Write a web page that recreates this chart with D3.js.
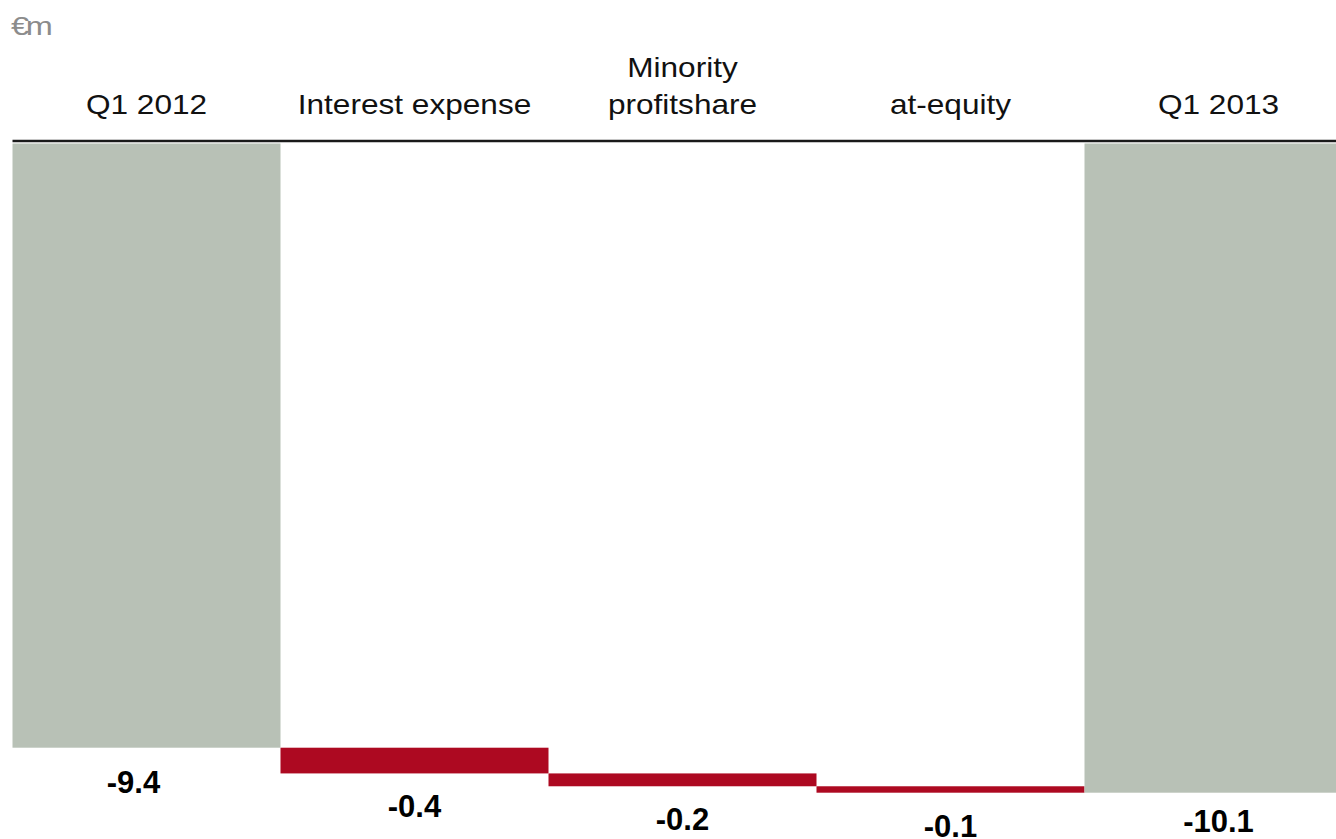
<!DOCTYPE html>
<html>
<head>
<meta charset="utf-8">
<script src="https://cdn.jsdelivr.net/npm/d3@7"></script>
<style>
  html, body { margin: 0; padding: 0; background: #fff; overflow: hidden; }
  svg { display: block; }
  text { font-family: "Liberation Sans", Arial, sans-serif; }
</style>
</head>
<body>
<svg id="chart" width="1336" height="839"></svg>
<script>
// Net financial result bridge, €m
const categories = ["Q1 2012", "Interest expense", "Minority\nprofitshare", "at-equity", "Q1 2013"];
const kinds      = ["total", "delta", "delta", "delta", "total"];
const values     = [-9.4, -0.4, -0.2, -0.1, -10.1];
const valueLabels = ["-9.4", "-0.4", "-0.2", "-0.1", "-10.1"];
const unitLabel = "€m";

const svg = d3.select("#chart");

// Waterfall segments: totals start at zero, deltas start at the running sum
let running = 0;
const bars = categories.map((c, i) => {
  let y0, y1;
  if (kinds[i] === "total") { y0 = 0; y1 = values[i]; running = values[i]; }
  else { y0 = running; y1 = running + values[i]; running = y1; }
  return { cat: c, kind: kinds[i], y0, y1, label: valueLabels[i], idx: i };
});

const x = d3.scaleBand().domain(categories).range([12.5, 1352.5]).padding(0);
const y = d3.scaleLinear().domain([0, -10.1]).range([143.5, 792.7]);

// Bars
svg.append("g").selectAll("rect").data(bars).join("rect")
  .attr("x", d => x(d.cat))
  .attr("width", x.bandwidth())
  .attr("y", d => y(Math.max(d.y0, d.y1)))
  .attr("height", d => Math.abs(y(d.y1) - y(d.y0)))
  .attr("fill", d => d.kind === "total" ? "#b8c1b6" : "#ad0921");

// Zero line drawn just above the bars
svg.append("line")
  .attr("x1", x.range()[0]).attr("x2", x.range()[1])
  .attr("y1", y(0) - 2.5).attr("y2", y(0) - 2.5)
  .attr("stroke", "#1a1a1a").attr("stroke-width", 2.5);

// Category labels above the line
const catG = svg.append("g");
categories.forEach(c => {
  const lines = c.split("\n");
  const cx = x(c) + x.bandwidth() / 2;
  const baseLast = 114;
  const t = catG.append("text")
    .attr("transform", `translate(${cx},0) scale(1.17,1)`)
    .attr("text-anchor", "middle")
    .attr("font-size", 27)
    .attr("fill", "#111");
  lines.forEach((ln, k) => {
    t.append("tspan").attr("x", 0)
      .attr("y", baseLast - (lines.length - 1 - k) * 37)
      .text(ln);
  });
});

// Value labels below each bar; total labels are kept inside the frame,
// and the opening total's label sits a little left of the band centre
svg.append("g").selectAll("text").data(bars).join("text")
  .attr("x", d => x(d.cat) + x.bandwidth() / 2 + (d.idx === 0 ? -13 : 0))
  .attr("y", d => {
    const bottom = y(Math.min(d.y0, d.y1));
    return d.kind === "total" ? Math.min(bottom + 45.5, 832) : bottom + 44;
  })
  .attr("text-anchor", "middle")
  .attr("font-size", 31)
  .attr("font-weight", "bold")
  .attr("fill", "#000")
  .text(d => d.label);

// Unit label
svg.append("text")
  .attr("transform", "translate(11,35) scale(1.3,1)")
  .attr("font-size", 25)
  .attr("letter-spacing", -2.5)
  .attr("fill", "#8c8c8c")
  .text(unitLabel);
</script>
</body>
</html>
